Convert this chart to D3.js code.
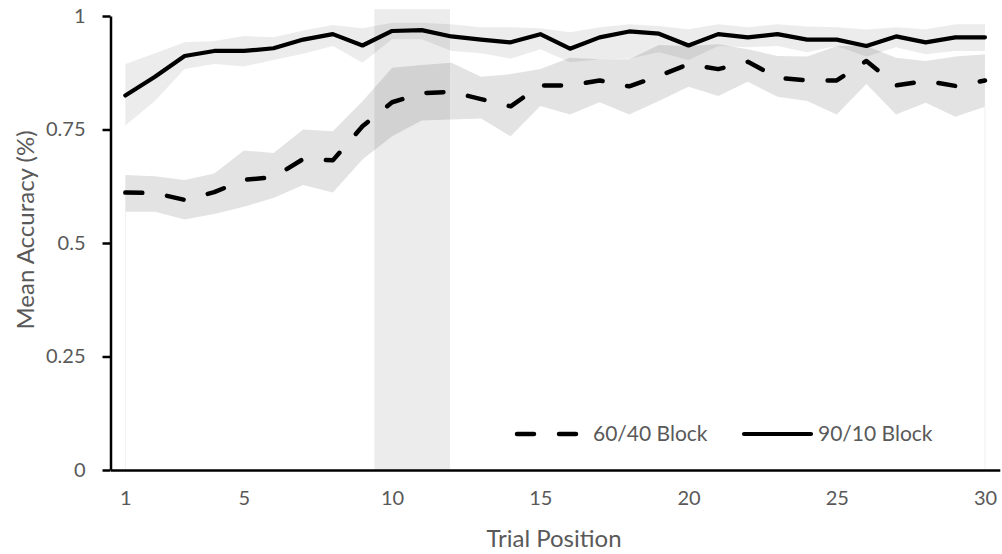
<!DOCTYPE html>
<html>
<head>
<meta charset="utf-8">
<script src="https://cdn.jsdelivr.net/npm/d3@7"></script>
<style>
  html, body { margin: 0; padding: 0; background: #fff; }
  svg { display: block; font-family: Lato, "Open Sans", sans-serif; }
</style>
</head>
<body>
<svg id="chart" width="1002" height="554"></svg>
<script>
// Trial positions 1..30
const trials = d3.range(1, 31);

// 60/40 block: mean accuracy and confidence band
const mean6040 = [0.611, 0.610, 0.595, 0.612, 0.639, 0.645, 0.685, 0.682, 0.757, 0.810,
                  0.830, 0.833, 0.817, 0.801, 0.847, 0.847, 0.858, 0.845, 0.868, 0.894,
                  0.883, 0.899, 0.864, 0.858, 0.858, 0.901, 0.847, 0.857, 0.846, 0.858];
const upper6040 = [0.650, 0.647, 0.639, 0.653, 0.704, 0.698, 0.750, 0.746, 0.812, 0.886,
                   0.892, 0.897, 0.866, 0.872, 0.883, 0.908, 0.905, 0.905, 0.936, 0.934,
                   0.938, 0.927, 0.912, 0.911, 0.934, 0.934, 0.908, 0.901, 0.911, 0.916];
const lower6040 = [0.569, 0.569, 0.552, 0.564, 0.580, 0.599, 0.628, 0.611, 0.684, 0.735,
                   0.770, 0.772, 0.774, 0.735, 0.802, 0.783, 0.810, 0.783, 0.813, 0.844,
                   0.824, 0.855, 0.822, 0.813, 0.783, 0.850, 0.783, 0.809, 0.778, 0.800];

// 90/10 block: mean accuracy and confidence band
const mean9010 = [0.825, 0.866, 0.912, 0.923, 0.923, 0.929, 0.948, 0.960, 0.935, 0.967,
                  0.969, 0.955, 0.948, 0.942, 0.960, 0.928, 0.953, 0.966, 0.961, 0.935,
                  0.960, 0.953, 0.960, 0.948, 0.948, 0.934, 0.955, 0.942, 0.953, 0.953];
const upper9010 = [0.894, 0.918, 0.942, 0.945, 0.956, 0.953, 0.968, 0.980, 0.973, 0.985,
                   0.985, 0.982, 0.975, 0.975, 0.973, 0.964, 0.975, 0.982, 0.978, 0.971,
                   0.982, 0.975, 0.982, 0.977, 0.975, 0.970, 0.975, 0.971, 0.982, 0.982];
const lower9010 = [0.759, 0.813, 0.883, 0.894, 0.889, 0.903, 0.917, 0.934, 0.897, 0.949,
                   0.949, 0.923, 0.918, 0.906, 0.927, 0.898, 0.905, 0.906, 0.920, 0.903,
                   0.934, 0.931, 0.934, 0.920, 0.934, 0.911, 0.931, 0.916, 0.923, 0.923];

// Highlighted trial window (x extent) and its top value
const highlightRange = [9.4, 11.95];
const highlightTop = 1.015;

const xTicks = [1, 5, 10, 15, 20, 25, 30];
const yTicks = [0, 0.25, 0.5, 0.75, 1];
const seriesNames = ["60/40 Block", "90/10 Block"];

const svg = d3.select("#chart");
const textColor = "#595959";

const x = d3.scaleLinear().domain([0.5, 30.5]).range([110.5, 999.8]);
const y = d3.scaleLinear().domain([0, 1]).range([470, 16]);

// highlighted window
svg.append("rect")
  .attr("x", x(highlightRange[0]))
  .attr("width", x(highlightRange[1]) - x(highlightRange[0]))
  .attr("y", y(highlightTop))
  .attr("height", y(0) - y(highlightTop))
  .attr("fill", "#000").attr("fill-opacity", 0.075);

// confidence bands
const band = (lo, hi) => d3.area()
  .x((d, i) => x(trials[i]))
  .y0((d, i) => y(lo[i]))
  .y1((d, i) => y(hi[i]));

svg.append("path").datum(trials)
  .attr("d", band(lower9010, upper9010))
  .attr("fill", "#000").attr("fill-opacity", 0.075);
svg.append("path").datum(trials)
  .attr("d", band(lower6040, upper6040))
  .attr("fill", "#000").attr("fill-opacity", 0.11);

// faint edges of the band areas down to zero
[0, trials.length - 1].forEach(i => {
  svg.append("line")
    .attr("x1", x(trials[i])).attr("x2", x(trials[i]))
    .attr("y1", y(0)).attr("y2", y(Math.min(lower6040[i], lower9010[i])))
    .attr("stroke", "#f0f0f0").attr("stroke-width", 1);
});

// mean lines
const line = vals => d3.line().x((d, i) => x(trials[i])).y((d, i) => y(vals[i]));

svg.append("path").datum(trials)
  .attr("d", line(mean6040))
  .attr("fill", "none").attr("stroke", "#000")
  .attr("stroke-width", 4.5).attr("stroke-dasharray", "17 25")
  .attr("stroke-linecap", "round").attr("stroke-linejoin", "round");

svg.append("path").datum(trials)
  .attr("d", line(mean9010))
  .attr("fill", "none").attr("stroke", "#000")
  .attr("stroke-width", 4.2)
  .attr("stroke-linecap", "round").attr("stroke-linejoin", "round");

// y axis
const yAxis = svg.append("g").attr("transform", `translate(${x(0.5)},0)`)
  .call(d3.axisLeft(y).tickValues(yTicks).tickFormat(d => String(d)).tickSizeInner(8).tickSizeOuter(0).tickPadding(17));
yAxis.select(".domain").attr("stroke", "#000").attr("stroke-width", 2.5);
yAxis.selectAll(".tick line").attr("stroke", "#000").attr("stroke-width", 2.5);
yAxis.selectAll(".tick text").attr("fill", textColor)
  .style("font-size", "20px").style("font-family", "Lato, sans-serif");

// x axis
const xAxis = svg.append("g").attr("transform", `translate(0,${y(0)})`)
  .call(d3.axisBottom(x).tickValues(xTicks).tickFormat(d3.format("d")).tickSize(0).tickPadding(21));
xAxis.select(".domain").attr("stroke", "#000").attr("stroke-width", 2.5);
xAxis.selectAll(".tick text").attr("fill", textColor)
  .style("font-size", "20px").style("font-family", "Lato, sans-serif");

// axis titles
svg.append("text")
  .attr("transform", `translate(34,230) rotate(-90)`)
  .attr("text-anchor", "middle")
  .attr("fill", textColor).style("font-size", "24px")
  .text("Mean Accuracy (%)");

svg.append("text")
  .attr("x", 554).attr("y", 547)
  .attr("text-anchor", "middle")
  .attr("fill", textColor).style("font-size", "24px")
  .text("Trial Position");

// legend
const legend = svg.append("g");
legend.append("line")
  .attr("x1", 517).attr("x2", 578).attr("y1", 434).attr("y2", 434)
  .attr("stroke", "#000").attr("stroke-width", 4.5)
  .attr("stroke-dasharray", "17 25").attr("stroke-linecap", "round");
legend.append("text")
  .attr("x", 593).attr("y", 441)
  .attr("fill", textColor).style("font-size", "21px")
  .text(seriesNames[0]);
legend.append("line")
  .attr("x1", 744).attr("x2", 811).attr("y1", 434).attr("y2", 434)
  .attr("stroke", "#000").attr("stroke-width", 4.2).attr("stroke-linecap", "round");
legend.append("text")
  .attr("x", 818).attr("y", 441)
  .attr("fill", textColor).style("font-size", "21px")
  .text(seriesNames[1]);
</script>
</body>
</html>
